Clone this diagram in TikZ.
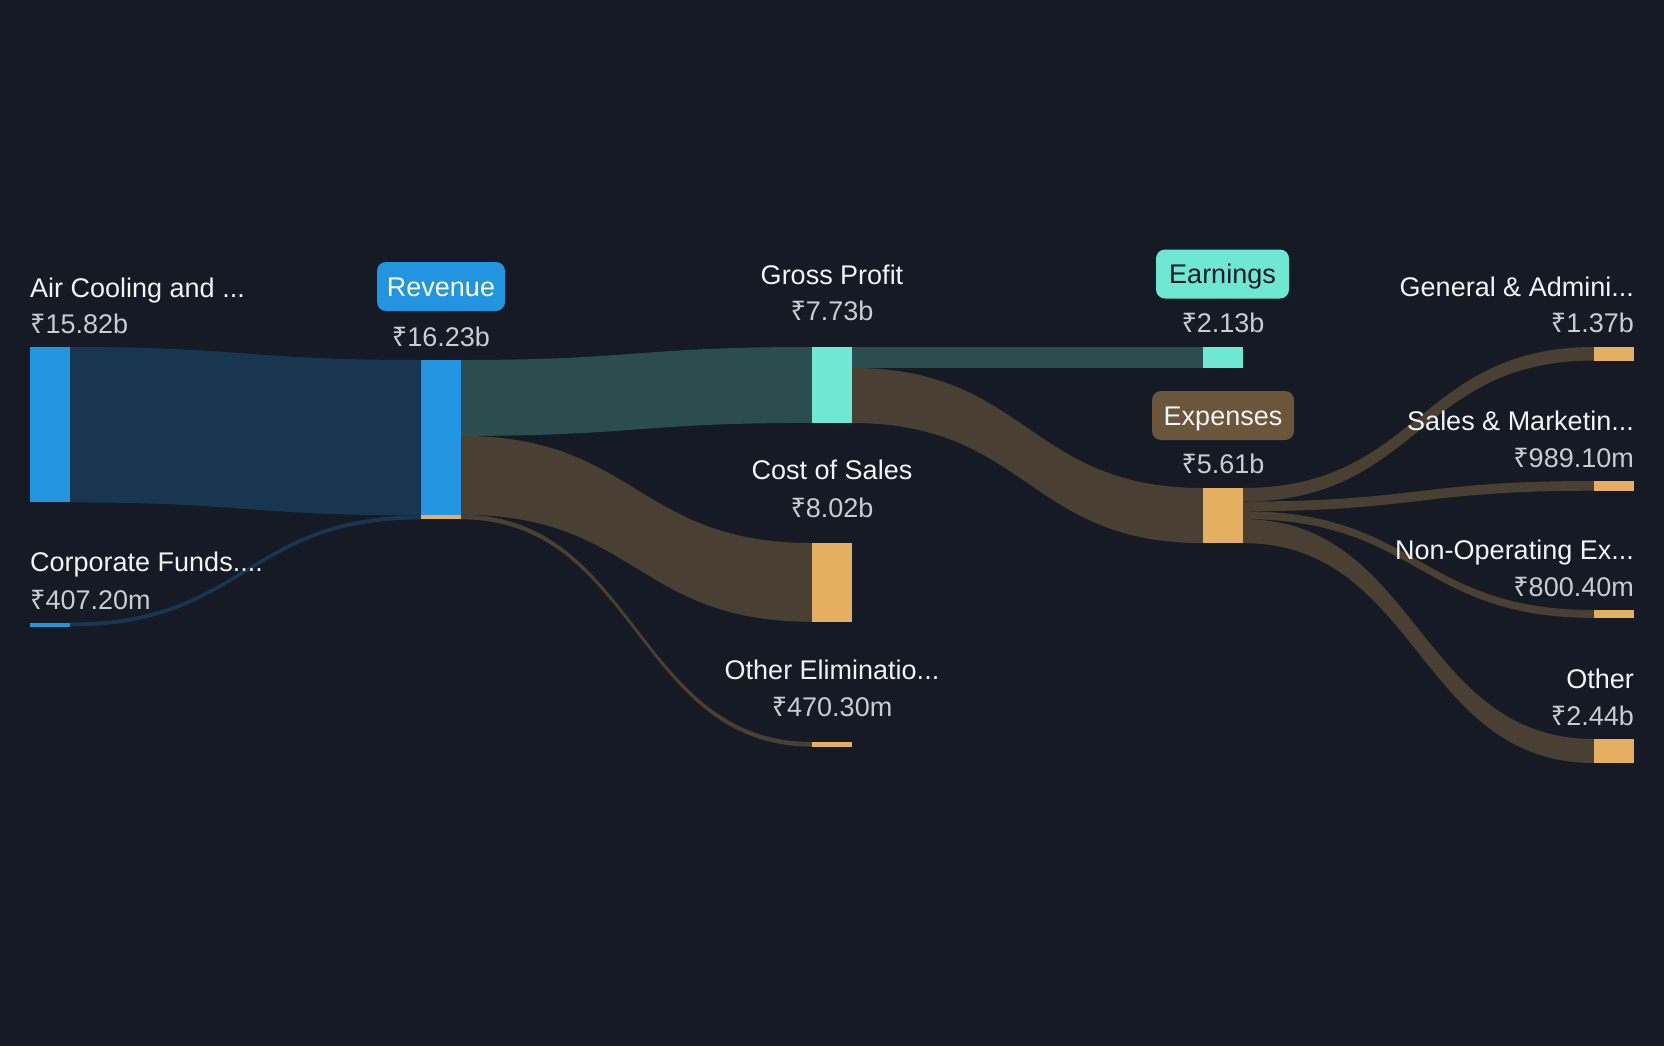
\documentclass[tikz,border=0pt]{standalone}
\usepackage{fontspec}
\setmainfont{Liberation Sans}
\newfontfamily\rupfont{Noto Sans}
\newcommand\Rs{{\rupfont ₹}}
\usetikzlibrary{calc}
\definecolor{bgc}{HTML}{151A25}
\definecolor{bluebar}{HTML}{2394DF}
\definecolor{blueflow}{HTML}{18364F}
\definecolor{tealbar}{HTML}{6EE7D3}
\definecolor{tealflow}{HTML}{2C4D50}
\definecolor{orangebar}{HTML}{E5AF62}
\definecolor{brownflow}{HTML}{4A3F33}
\definecolor{expbox}{HTML}{6B563C}
\definecolor{labc}{HTML}{F2F4F7}
\definecolor{valc}{HTML}{C9CCD1}
\pgfdeclarelayer{back}
\pgfdeclarelayer{flows}
\pgfsetlayers{back,flows,main}
\newcommand\flow[6]{%
  \coordinate (fA) at ($(#2.north east)+(0,#3)$);
  \coordinate (fB) at ($(#4.north west)+(0,#5)$);
  \coordinate (fC) at ($(fA)+(0,#6)$);
  \coordinate (fD) at ($(fB)+(0,#6)$);
  \coordinate (fM) at ($(fA)!.5!(fB)$);
  \fill[#1] (fA) .. controls (fM|-fA) and (fM|-fB) .. (fB) -- (fD)
     .. controls (fM|-fD) and (fM|-fC) .. (fC) -- cycle;
}
\begin{document}
\begin{tikzpicture}[x=1pt,y=-1pt,
  bar/.style={inner sep=0pt,outer sep=0pt,minimum width=40pt,anchor=north west},
  lab/.style={text=labc,font=\fontsize{27}{32}\selectfont,inner sep=0pt},
  val/.style={text=valc,font=\fontsize{27}{32}\selectfont,inner sep=0pt},
  tagbox/.style={font=\fontsize{27}{32}\selectfont,inner xsep=0pt,inner ysep=5pt,
    text height=29pt,text depth=10pt,rounded corners=9pt,outer sep=0pt}]
\useasboundingbox (0,0) rectangle (1664,1046);
\begin{pgfonlayer}{back}
\fill[bgc] (0,0) rectangle (1664,1046);
\end{pgfonlayer}
% bars
\node[bar,fill=bluebar,minimum height=155.4pt] (air) at (30,347) {};
\node[bar,fill=bluebar,minimum height=4pt] (corp) at (30,622.5) {};
\node[bar,fill=bluebar,minimum height=159.4pt] (rev) at (421,360) {};
\node[bar,fill=orangebar,minimum height=4.6pt] (revx) at (421,514.8) {};
\node[bar,fill=tealbar,minimum height=75.9pt] (gp) at (812,347) {};
\node[bar,fill=orangebar,minimum height=78.8pt] (cos) at (812,543) {};
\node[bar,fill=orangebar,minimum height=4.6pt] (oe) at (812,742) {};
\node[bar,fill=tealbar,minimum height=20.9pt] (earn) at (1203,347) {};
\node[bar,fill=orangebar,minimum height=55.1pt] (exp) at (1203,488) {};
\node[bar,fill=orangebar,minimum height=13.5pt] (ga) at (1594,347) {};
\node[bar,fill=orangebar,minimum height=9.7pt] (sm) at (1594,481) {};
\node[bar,fill=orangebar,minimum height=7.9pt] (nop) at (1594,610) {};
\node[bar,fill=orangebar,minimum height=24pt] (oth) at (1594,739) {};
% flows
\begin{pgfonlayer}{flows}
\flow{blueflow}{air}{0}{rev}{0}{155.4}
\flow{blueflow}{corp}{0}{rev}{155.4}{4}
\flow{tealflow}{rev}{0}{gp}{0}{75.9}
\flow{brownflow}{rev}{75.9}{cos}{0}{78.8}
\flow{brownflow}{rev}{154.7}{oe}{0}{4.6}
\flow{tealflow}{gp}{0}{earn}{0}{20.9}
\flow{brownflow}{gp}{20.9}{exp}{0}{55.1}
\flow{brownflow}{exp}{0}{ga}{0}{13.5}
\flow{brownflow}{exp}{13.5}{sm}{0}{9.7}
\flow{brownflow}{exp}{23.2}{nop}{0}{7.9}
\flow{brownflow}{exp}{31.1}{oth}{0}{24}
\end{pgfonlayer}
% labels column 0
\node[lab,anchor=base west] (lair) at (30,297) {Air Cooling and ...};
\node[val,anchor=base west] (vair) at (30,333) {\Rs15.82b};
\node[lab,anchor=base west] (lcorp) at (30,571) {Corporate Funds....};
\node[val,anchor=base west] (vcorp) at (30,609) {\Rs407.20m};
% column 1
\node[tagbox,fill=bluebar,text=white,minimum width=128pt] (trev) at (441,286.5) {Revenue};
\node[val,anchor=base] (vrev) at (441,346) {\Rs16.23b};
% column 2
\node[lab,anchor=base] (lgp) at (832,284) {Gross Profit};
\node[val,anchor=base] (vgp) at (832,320) {\Rs7.73b};
\node[lab,anchor=base] (lcos) at (832,479) {Cost of Sales};
\node[val,anchor=base] (vcos) at (832,517) {\Rs8.02b};
\node[lab,anchor=base] (loe) at (832,679) {Other Eliminatio...};
\node[val,anchor=base] (voe) at (832,716) {\Rs470.30m};
% column 3
\node[tagbox,fill=tealbar,text=bgc,minimum width=133pt] (tearn) at (1222.5,274) {Earnings};
\node[val,anchor=base] (vearn) at (1223,332) {\Rs2.13b};
\node[tagbox,fill=expbox,text=labc,minimum width=142pt] (texp) at (1223,415.5) {Expenses};
\node[val,anchor=base] (vexp) at (1223,473) {\Rs5.61b};
% column 4
\node[lab,anchor=base east] (lga) at (1634,296) {General \& Admini...};
\node[val,anchor=base east] (vga) at (1634,332) {\Rs1.37b};
\node[lab,anchor=base east] (lsm) at (1634,430) {Sales \& Marketin...};
\node[val,anchor=base east] (vsm) at (1634,467) {\Rs989.10m};
\node[lab,anchor=base east] (lnop) at (1634,559) {Non-Operating Ex...};
\node[val,anchor=base east] (vnop) at (1634,596) {\Rs800.40m};
\node[lab,anchor=base east] (loth) at (1634,688) {Other};
\node[val,anchor=base east] (voth) at (1634,725) {\Rs2.44b};
\end{tikzpicture}
\end{document}
